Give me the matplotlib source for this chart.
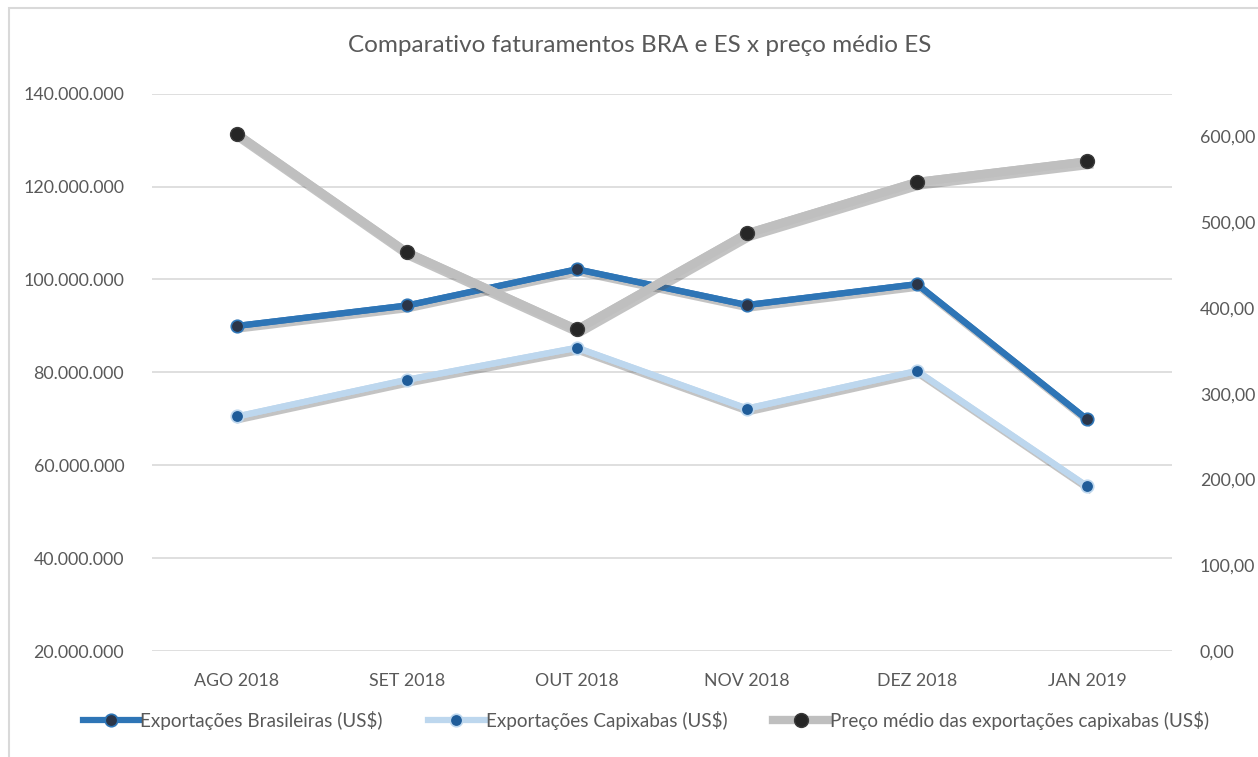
import matplotlib.pyplot as plt
import matplotlib.patheffects as pe
from matplotlib.ticker import FuncFormatter, MultipleLocator
from matplotlib.patches import Rectangle

# dados
meses = ["AGO 2018", "SET 2018", "OUT 2018", "NOV 2018", "DEZ 2018", "JAN 2019"]
exp_brasil = [90.0e6, 94.4e6, 102.2e6, 94.5e6, 99.0e6, 69.9e6]
exp_capixaba = [70.5e6, 78.4e6, 85.3e6, 72.2e6, 80.3e6, 55.5e6]
preco_medio = [603, 465, 375, 487, 547, 571]

plt.rcParams['font.family'] = ['Lato', 'DejaVu Sans']
cinza_txt = '#595959'

fig = plt.figure(figsize=(12.58, 7.57), dpi=100)
ax = fig.add_axes([0.1208, 0.14, 0.8108, 0.7362])
ax2 = ax.twinx()

# borda do grafico (como no Excel)
fig.patches.append(Rectangle((9 / 1258, -0.02), 1.1, 1 - 8 / 757 + 0.02,
                             transform=fig.transFigure, fill=False,
                             edgecolor='#d9d9d9', linewidth=1.5))

sombra = [pe.SimpleLineShadow(offset=(1.5, -2.5), shadow_color='#555555', alpha=0.35),
          pe.Normal()]
x = range(len(meses))

# linhas com sombra (sem marcador), depois linha + marcador por cima
ax.plot(x, exp_brasil, color='#2E75B6', lw=4.5, zorder=3, path_effects=sombra)
ax.plot(x, exp_capixaba, color='#BDD7EE', lw=4.5, zorder=3, path_effects=sombra)
ax2.plot(x, preco_medio, color='#BFBFBF', lw=6, zorder=3, path_effects=sombra)

l1, = ax.plot(x, exp_brasil, color='#2E75B6', lw=4.5, marker='o', ms=9,
              mfc='#2b3548', mec='#2E75B6', mew=1.2, zorder=4,
              label='Exportações Brasileiras (US$)')
l2, = ax.plot(x, exp_capixaba, color='#BDD7EE', lw=4.5, marker='o', ms=9,
              mfc='#1F5C99', mec='#BDD7EE', mew=1.2, zorder=4,
              label='Exportações Capixabas (US$)')
l3, = ax2.plot(x, preco_medio, color='#BFBFBF', lw=6, marker='o', ms=10,
               mfc='#262626', mec='#3a3a3a', mew=1, zorder=4,
               label='Preço médio das exportações capixabas (US$)')

ax.set_xlim(-0.5, 5.5)
ax.set_ylim(20e6, 140e6)
ax.yaxis.set_major_locator(MultipleLocator(20e6))
ax.yaxis.set_major_formatter(FuncFormatter(lambda v, p: f"{v:,.0f}".replace(',', '.')))
ax2.set_ylim(0, 650)
ax2.set_yticks([0, 100, 200, 300, 400, 500, 600])
ax2.yaxis.set_major_formatter(FuncFormatter(lambda v, p: f"{v:.2f}".replace('.', ',')))

ax.set_xticks(list(x))
ax.set_xticklabels(meses)
ax.grid(axis='y', color='#d9d9d9', lw=1.2)
ax.set_axisbelow(True)

for a in (ax, ax2):
    for s in a.spines.values():
        s.set_visible(False)
    a.tick_params(length=0, labelsize=12.8, labelcolor=cinza_txt)
ax.tick_params(axis='y', pad=20)
ax2.tick_params(axis='y', pad=20)
ax.tick_params(axis='x', pad=16)

fig.text(640 / 1258, 1 - 45 / 757, 'Comparativo faturamentos BRA e ES x preço médio ES',
         ha='center', va='center', fontsize=17.5, color=cinza_txt)

fig.legend(handles=[l1, l2, l3], loc='center', bbox_to_anchor=(646 / 1258, 1 - 720 / 757),
           ncol=3, frameon=False, fontsize=13.6, labelcolor=cinza_txt,
           handlelength=3.0, handletextpad=0.05, columnspacing=2.4)

fig.savefig('out.png', dpi=100)
